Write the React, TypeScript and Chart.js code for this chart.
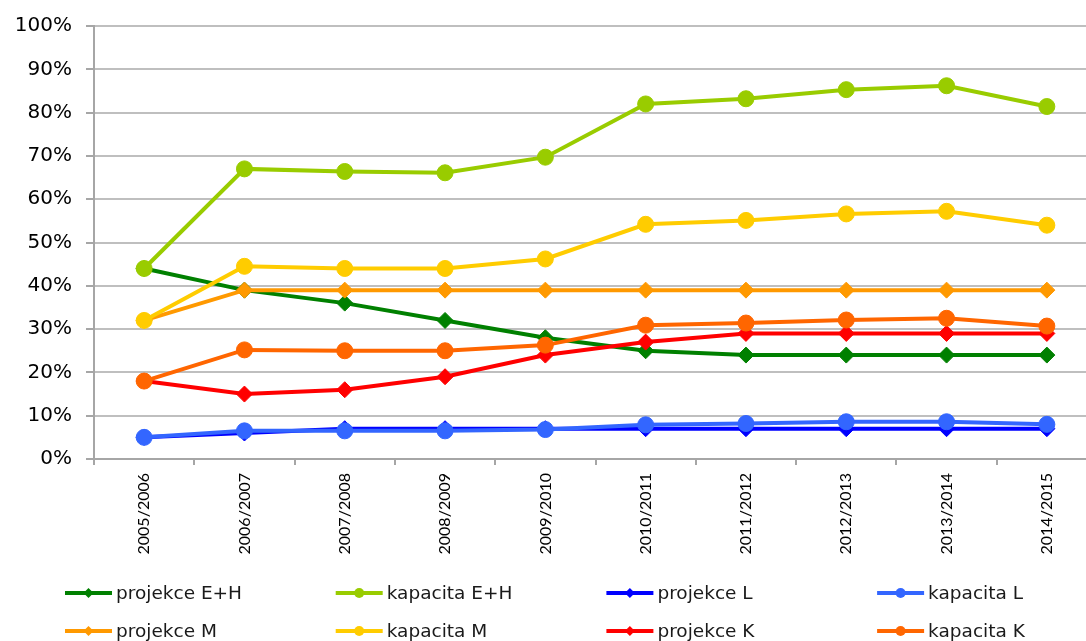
import React, { useEffect, useRef } from "react";
import { Chart, registerables } from "chart.js";

Chart.register(...registerables);

const categories = [
  "2005/2006", "2006/2007", "2007/2008", "2008/2009", "2009/2010",
  "2010/2011", "2011/2012", "2012/2013", "2013/2014", "2014/2015",
];

const projekceEH = [44, 39, 36, 32, 28, 25, 24, 24, 24, 24];
const kapacitaEH = [44, 67, 66.4, 66.1, 69.7, 82, 83.2, 85.3, 86.2, 81.4];
const projekceL = [5, 6, 7, 7, 7, 7, 7, 7, 7, 7];
const kapacitaL = [5, 6.5, 6.5, 6.5, 6.8, 7.9, 8.2, 8.6, 8.6, 8.0];
const projekceM = [32, 39, 39, 39, 39, 39, 39, 39, 39, 39];
const kapacitaM = [32, 44.5, 44, 44, 46.2, 54.2, 55.1, 56.6, 57.2, 54];
const projekceK = [18, 15, 16, 19, 24, 27, 29, 29, 29, 29];
const kapacitaK = [18, 25.2, 25, 25, 26.3, 30.9, 31.4, 32.1, 32.5, 30.7];

const yMin = 0;
const yMax = 100;
const yStep = 10;

const seriesNames = [
  "projekce E+H", "kapacita E+H", "projekce L", "kapacita L",
  "projekce M", "kapacita M", "projekce K", "kapacita K",
];
const seriesValues = [
  projekceEH, kapacitaEH, projekceL, kapacitaL,
  projekceM, kapacitaM, projekceK, kapacitaK,
];
const seriesColors = [
  "#008000", "#99CC00", "#0000FF", "#3366FF",
  "#FF9900", "#FFCC00", "#FF0000", "#FF6600",
];

const FONT = "DejaVu Sans";
const XFONT = "Lato";

const gridLegend = {
  id: "gridLegend",
  afterDraw(chart: any) {
    const ctx = chart.ctx as CanvasRenderingContext2D;
    ctx.save();
    chart.data.datasets.forEach((ds: any, i: number) => {
      const col = i % 4;
      const row = Math.floor(i / 4);
      const x0 = 65 + col * 270.7;
      const y = 593 + row * 38;
      const color = ds.borderColor as string;
      ctx.strokeStyle = color;
      ctx.lineWidth = 4;
      ctx.beginPath();
      ctx.moveTo(x0, y);
      ctx.lineTo(x0 + 47, y);
      ctx.stroke();
      const cx = x0 + 23.5;
      ctx.fillStyle = color;
      ctx.beginPath();
      if (ds.pointStyle === "circle") {
        ctx.arc(cx, y, 5, 0, Math.PI * 2);
      } else {
        ctx.moveTo(cx - 5, y);
        ctx.lineTo(cx, y - 5);
        ctx.lineTo(cx + 5, y);
        ctx.lineTo(cx, y + 5);
        ctx.closePath();
      }
      ctx.fill();
      ctx.fillStyle = "#1a1a1a";
      ctx.font = `18.5px "${FONT}"`;
      ctx.textBaseline = "middle";
      ctx.textAlign = "left";
      ctx.fillText(ds.label, x0 + 51, y + 1);
    });
    ctx.restore();
  },
};

export default function App() {
  const canvasRef = useRef<HTMLCanvasElement | null>(null);

  useEffect(() => {
    if (!canvasRef.current) return;
    Chart.defaults.font.family = `"${FONT}"`;
    const datasets = seriesNames.map((name, i) => {
      const isCircle = name.startsWith("kapacita");
      return {
        label: name,
        data: seriesValues[i],
        borderColor: seriesColors[i],
        backgroundColor: seriesColors[i],
        borderWidth: 4,
        pointStyle: isCircle ? "circle" : "rectRot",
        pointRadius: 8,
        pointBorderWidth: 1,
        pointBackgroundColor: seriesColors[i],
        pointBorderColor: seriesColors[i],
        tension: 0,
        order: seriesNames.length - i,
      };
    });

    const chart = new Chart(canvasRef.current, {
      type: "line",
      data: { labels: categories, datasets: datasets as any },
      options: {
        animation: false,
        responsive: true,
        maintainAspectRatio: false,
        layout: { padding: { top: 25, right: 2, bottom: 86, left: 0 } },
        plugins: {
          legend: { display: false },
          tooltip: { enabled: false },
        },
        scales: {
          x: {
            offset: true,
            grid: {
              offset: true,
              drawOnChartArea: false,
              drawTicks: true,
              tickLength: 6,
              color: "#A6A6A6",
              lineWidth: 2,
            },
            border: { color: "#A6A6A6", width: 2 },
            ticks: {
              autoSkip: false,
              maxRotation: 90,
              minRotation: 90,
              color: "#000",
              font: { size: 16, family: `"${XFONT}"` },
              padding: 8,
            },
            afterFit: (s: any) => {
              s.height = 96;
            },
          },
          y: {
            min: yMin,
            max: yMax,
            grid: {
              color: "#BFBFBF",
              lineWidth: 2,
              drawTicks: true,
              tickLength: 8,
              tickColor: "#A6A6A6",
            },
            border: { color: "#A6A6A6", width: 2 },
            ticks: {
              stepSize: yStep,
              color: "#000",
              font: { size: 20, family: `"${FONT}"` },
              padding: 14,
              callback: (v: any) => `${v}%`,
            },
            afterFit: (s: any) => {
              s.width = 94;
            },
          },
        },
      },
      plugins: [gridLegend],
    });
    return () => chart.destroy();
  }, []);

  return (
    <div
      style={{
        position: "absolute",
        left: 0,
        top: 0,
        width: 1086,
        height: 641,
        overflow: "hidden",
        background: "#fff",
      }}
    >
      <div style={{ position: "relative", width: 1106, height: 641 }}>
        <canvas ref={canvasRef} />
      </div>
    </div>
  );
}
